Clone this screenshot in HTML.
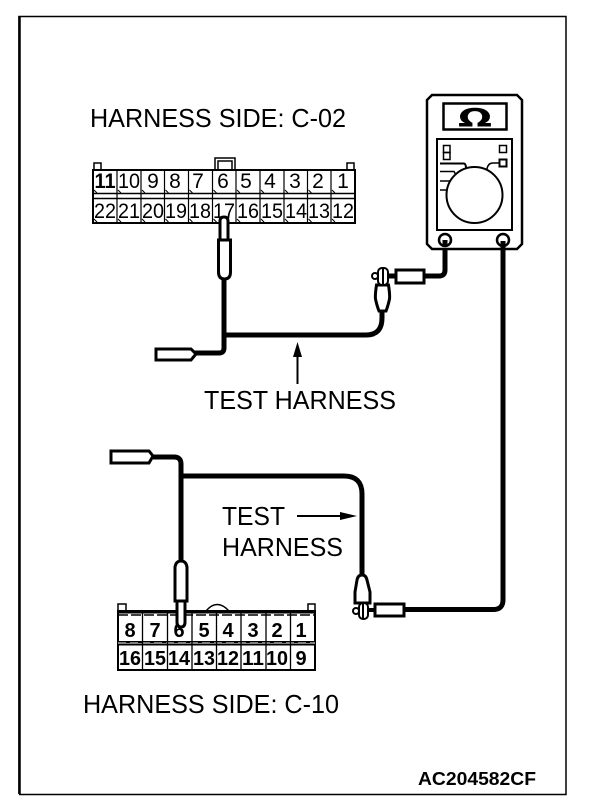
<!DOCTYPE html>
<html><head><meta charset="utf-8"><style>
html,body{margin:0;padding:0;background:#fff}
svg{display:block}
text{font-family:"Liberation Sans",sans-serif;fill:#000}
.l{font-size:26px}
.n text{font-size:21px;text-anchor:middle}
.b text{font-size:20px;font-weight:bold;text-anchor:middle}
.w{fill:none;stroke:#000;stroke-width:5;stroke-linejoin:round}
.o{fill:#fff;stroke:#000;stroke-width:2}
.o3{fill:#fff;stroke:#000;stroke-width:3}
.t{stroke:#000;stroke-width:1.500;fill:none}
</style></head><body>
<svg width="608" height="806" viewBox="0 0 608 806" xmlns="http://www.w3.org/2000/svg">
<rect width="608" height="806" fill="#fff"/>
<!-- frame -->
<path d="M19 794V16.500H566V794.500H19" fill="none" stroke="#000" stroke-width="1.500"/>
<path d="M19.500 16V794" stroke="#000" stroke-width="2.500"/>

<text class="l" x="90" y="127" textLength="256" lengthAdjust="spacingAndGlyphs">HARNESS SIDE: C-02</text>

<!-- top connector -->
<rect x="94" y="163" width="7" height="7" class="t" stroke-width="2"/>
<rect x="347" y="163" width="7" height="7" class="t" stroke-width="2"/>
<path d="M215 170V158H235V170M218 170V161H232V170" class="t"/>
<rect x="93" y="170" width="262" height="53" fill="#fff" stroke="#000" stroke-width="2"/>
<path d="M93 193.500H355M93 198.500H355" stroke="#000" stroke-width="1.500"/>
<path d="M117 170V223M141 170V223M164.500 170V223M188.500 170V223M212.500 170V223M236 170V223M260 170V223M284 170V223M307.500 170V223M331 170V223" stroke="#000" stroke-width="1.200"/>
<path d="M94 190l3 3M118 190l3 3M142 190l3 3M165.500 190l3 3M189.500 190l3 3M213.500 190l3 3M237 190l3 3M261 190l3 3M285 190l3 3M308.500 190l3 3M332 190l3 3M94 219l3 3M118 219l3 3M142 219l3 3M165.500 219l3 3M189.500 219l3 3M213.500 219l3 3M237 219l3 3M261 219l3 3M285 219l3 3M308.500 219l3 3M332 219l3 3" stroke="#000" stroke-width="1"/>
<g class="n">
<text x="105" y="188" font-weight="bold" textLength="21" lengthAdjust="spacingAndGlyphs">11</text><text x="129" y="188" textLength="22" lengthAdjust="spacingAndGlyphs">10</text><text x="153" y="188">9</text><text x="175" y="188">8</text><text x="198" y="188">7</text><text x="223" y="188">6</text><text x="246" y="188">5</text><text x="270" y="188">4</text><text x="295" y="188">3</text><text x="318" y="188">2</text><text x="343" y="188">1</text>
<text x="105" y="218" textLength="22" lengthAdjust="spacingAndGlyphs">22</text><text x="129" y="218" textLength="22" lengthAdjust="spacingAndGlyphs">21</text><text x="153" y="218" textLength="22" lengthAdjust="spacingAndGlyphs">20</text><text x="176" y="218" textLength="22" lengthAdjust="spacingAndGlyphs">19</text><text x="200" y="218" textLength="22" lengthAdjust="spacingAndGlyphs">18</text><text x="224" y="218" textLength="22" lengthAdjust="spacingAndGlyphs">17</text><text x="248" y="218" textLength="22" lengthAdjust="spacingAndGlyphs">16</text><text x="272" y="218" textLength="22" lengthAdjust="spacingAndGlyphs">15</text><text x="296" y="218" textLength="22" lengthAdjust="spacingAndGlyphs">14</text><text x="319" y="218" textLength="22" lengthAdjust="spacingAndGlyphs">13</text><text x="343" y="218" textLength="22" lengthAdjust="spacingAndGlyphs">12</text>
</g>

<!-- top harness -->
<path class="w" d="M224 278V348Q224 353 219 353H193"/>
<path class="w" d="M224 335H366Q382 335 382 318V308"/>
<path class="o3" d="M220 240V221Q220 217 224 217Q228 217 228 221V240Z"/>
<path class="o3" d="M218.500 240H230.500V272Q230.500 279 224.500 279Q218.500 279 218.500 272Z"/>
<path class="o3" d="M156 349H191L196 354L191 360H156Z"/>
<!-- top right probe -->
<path class="w" d="M445 245V270Q445 276 439 276H422"/>
<path class="o3" d="M376.500 285Q375 295 375.500 299Q377 306 379 311H386Q388 306 389.500 299Q390 295 388.500 285Z"/>
<rect x="396" y="270" width="28" height="13" class="o3"/>
<path d="M374 276H396" stroke="#000" stroke-width="5"/>
<circle cx="375" cy="276" r="3" class="o"/>
<rect x="378" y="268" width="10" height="17" rx="4" class="o"/>
<path d="M383 268V285" stroke="#000" stroke-width="2"/>

<!-- meter -->
<path d="M432 95H517L522 100V244L517 249H432L427 244V100Z" fill="#fff" stroke="#000" stroke-width="2.500"/>
<rect x="443.500" y="103.500" width="63" height="26" fill="#fff" stroke="#000" stroke-width="2.500"/>
<text x="458" y="126" textLength="34" lengthAdjust="spacingAndGlyphs" style="font-size:25px;font-weight:bold;font-family:'DejaVu Sans',sans-serif">Ω</text>
<rect x="437" y="139" width="75" height="91" fill="#fff" stroke="#000" stroke-width="2"/>
<rect x="443.500" y="145.500" width="6.500" height="7" class="t"/>
<rect x="443.500" y="152.500" width="6.500" height="7" class="t"/>
<rect x="499.500" y="145.500" width="7" height="7" class="t"/>
<rect x="499.500" y="159.500" width="7" height="7" fill="#fff" stroke="#000" stroke-width="2"/>
<circle cx="474.500" cy="195" r="28" fill="#fff" stroke="#000" stroke-width="2"/>
<path d="M440 163.500H464Q466 164 466 168" fill="none" stroke="#000" stroke-width="2"/>
<path d="M440 171.500H454L456 175M440 181H451M440 190H447M487 169Q488 163 493 163H499" fill="none" stroke="#000" stroke-width="1.500"/>
<circle cx="445" cy="240" r="6" fill="#fff" stroke="#000" stroke-width="2.500"/>
<circle cx="503" cy="240" r="6" fill="#fff" stroke="#000" stroke-width="2.500"/>
<path class="w" d="M445 240V245"/>
<path d="M503 241V600Q503 609.500 493 609.500H403" fill="none" stroke="#000" stroke-width="5"/>

<!-- test harness labels -->
<path d="M297.500 384V352" stroke="#000" stroke-width="2"/>
<path d="M297.500 342L293 357H302Z" fill="#000"/>
<text class="l" x="204" y="409" textLength="192" lengthAdjust="spacingAndGlyphs">TEST HARNESS</text>
<text class="l" x="222" y="525" textLength="63" lengthAdjust="spacingAndGlyphs">TEST</text>
<text class="l" x="222" y="556" textLength="121" lengthAdjust="spacingAndGlyphs">HARNESS</text>
<path d="M297 516H343" stroke="#000" stroke-width="2"/>
<path d="M357 516L340 512V520Z" fill="#000"/>

<!-- bottom harness -->
<path class="w" d="M149 457H174Q181 457 181 464V562"/>
<path class="w" d="M181 476H344Q362 476 362 494V576"/>
<path class="o3" d="M111 451H149L153 456L149 463H111Z"/>
<path class="o3" d="M357 580Q358 575 362 575Q366 575 367 580L370 592V603H355V592Z"/>
<rect x="375" y="604" width="29" height="12" class="o3"/>
<path d="M355 610H376" stroke="#000" stroke-width="4"/>
<circle cx="356" cy="611" r="3" class="o"/>
<rect x="359" y="603" width="9" height="16" rx="4" class="o"/>
<path d="M363 603V619" stroke="#000" stroke-width="2"/>

<!-- bottom connector -->
<rect x="118" y="604" width="8" height="7" class="t"/>
<rect x="308" y="604" width="7" height="7" class="t"/>
<path d="M206 611Q217 598 229 611" class="t"/>
<rect x="118" y="611" width="197" height="59" fill="#fff" stroke="#000" stroke-width="2"/>
<path d="M118 612.500H315M118 642H315M118 644.500H315" stroke="#000" stroke-width="2"/>
<path d="M118 615H315" stroke="#000" stroke-width="1.500" stroke-dasharray="10 3"/>
<path d="M118 643H315" stroke="#fff" stroke-width="1" stroke-dasharray="8 4"/>
<path d="M142.500 612V670M167.500 612V670M192 612V670M216.500 612V670M241 612V670M266 612V670M290.500 612V670" stroke="#000" stroke-width="1.300"/>
<g class="b">
<text x="130" y="637">8</text><text x="155" y="637">7</text><text x="179" y="637">6</text><text x="204" y="637">5</text><text x="228" y="637">4</text><text x="253" y="637">3</text><text x="277" y="637">2</text><text x="301" y="637">1</text>
<text x="130" y="665" textLength="22" lengthAdjust="spacingAndGlyphs">16</text><text x="155" y="665" textLength="22" lengthAdjust="spacingAndGlyphs">15</text><text x="179" y="665" textLength="22" lengthAdjust="spacingAndGlyphs">14</text><text x="204" y="665" textLength="22" lengthAdjust="spacingAndGlyphs">13</text><text x="228" y="665" textLength="22" lengthAdjust="spacingAndGlyphs">12</text><text x="253" y="665" textLength="22" lengthAdjust="spacingAndGlyphs">11</text><text x="277" y="665" textLength="22" lengthAdjust="spacingAndGlyphs">10</text><text x="301" y="665">9</text>
</g>
<path class="o3" d="M177 600H185V622Q185 627 181 627Q177 627 177 622Z"/>
<path class="o3" d="M175 601V567Q176 561 181 561Q186 561 187 567V601Z"/>

<text class="l" x="83" y="713" textLength="256" lengthAdjust="spacingAndGlyphs">HARNESS SIDE: C-10</text>
<text x="418" y="785" textLength="118" lengthAdjust="spacingAndGlyphs" style="font-size:18px;font-weight:bold">AC204582CF</text>
</svg>
</body></html>
